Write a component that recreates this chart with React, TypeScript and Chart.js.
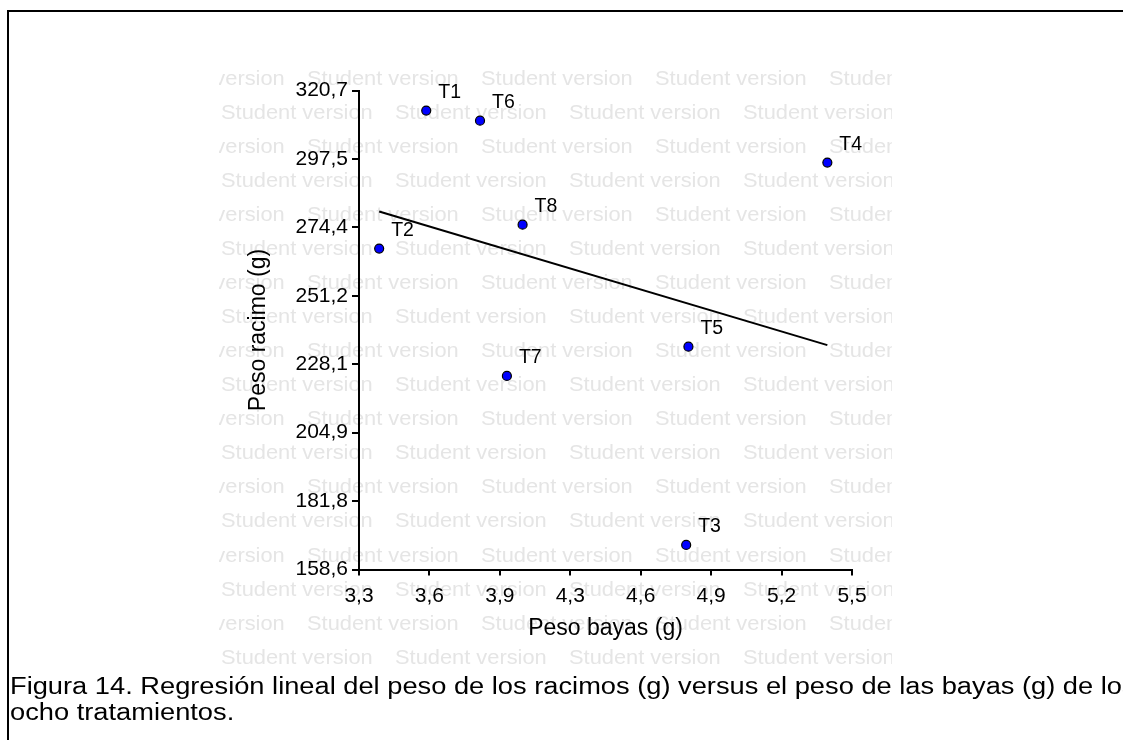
import React, { useEffect, useRef } from "react";
import { Chart, registerables } from "chart.js";

Chart.register(...registerables);

// Treatment means: berry weight (g) vs. cluster weight (g)
const treatments = ["T1", "T2", "T3", "T4", "T5", "T6", "T7", "T8"];
const berryWeight = [3.6, 3.39, 4.76, 5.39, 4.77, 3.84, 3.96, 4.03];
const clusterWeight = [313.9, 267.2, 166.9, 296.3, 234.0, 310.5, 224.1, 275.3];

const xTickLabels = ["3,3", "3,6", "3,9", "4,3", "4,6", "4,9", "5,2", "5,5"];
const yTickLabels = ["158,6", "181,8", "204,9", "228,1", "251,2", "274,4", "297,5", "320,7"];

const xMin = 3.3;
const xMax = 5.5;
const yMin = 158.6;
const yMax = 320.7;

const FONT = '"Liberation Sans", Arial, Helvetica, sans-serif';

// Least-squares fit of cluster weight on berry weight
function linearFit(xs: number[], ys: number[]) {
  const n = xs.length;
  const mx = xs.reduce((a, b) => a + b, 0) / n;
  const my = ys.reduce((a, b) => a + b, 0) / n;
  let sxy = 0;
  let sxx = 0;
  for (let i = 0; i < n; i++) {
    sxy += (xs[i] - mx) * (ys[i] - my);
    sxx += (xs[i] - mx) * (xs[i] - mx);
  }
  const slope = sxy / sxx;
  return { slope, intercept: my - slope * mx };
}

const fit = linearFit(berryWeight, clusterWeight);
const fitX0 = Math.min(...berryWeight);
const fitX1 = Math.max(...berryWeight);
const fitLine = [
  { x: fitX0, y: fit.intercept + fit.slope * fitX0 },
  { x: fitX1, y: fit.intercept + fit.slope * fitX1 },
];

// Evenly spaced ticks, one per label
function evenTicks(min: number, max: number, count: number) {
  return Array.from({ length: count }, (_, i) => ({ value: min + (i * (max - min)) / (count - 1) }));
}

// Tiled "Student version" stamp behind the plot
const studentStamp = {
  id: "studentStamp",
  beforeDraw(chart: any) {
    const ctx = chart.ctx as CanvasRenderingContext2D;
    ctx.save();
    ctx.beginPath();
    ctx.rect(219, 55, 892 - 219, 615);
    ctx.clip();
    ctx.font = `21px ${FONT}`;
    const word = "Student version";
    const sx = 151.7 / ctx.measureText(word).width;
    ctx.fillStyle = "#e5e5e5";
    ctx.textBaseline = "alphabetic";
    for (let r = 0; r < 18; r++) {
      const y = 84.8 + r * 34.05;
      const start = r % 2 === 0 ? 133 : 221;
      for (let x0 = start; x0 < 900; x0 += 174) {
        ctx.save();
        ctx.translate(x0, y);
        ctx.scale(sx, 1);
        ctx.fillText(word, 0, 0);
        ctx.restore();
      }
    }
    ctx.restore();
  },
};

// Treatment names next to each point
const pointNames = {
  id: "pointNames",
  afterDatasetsDraw(chart: any) {
    const ctx = chart.ctx as CanvasRenderingContext2D;
    const xs = chart.scales.x;
    const ys = chart.scales.y;
    ctx.save();
    ctx.font = `19.5px ${FONT}`;
    ctx.fillStyle = "#000";
    ctx.textAlign = "left";
    ctx.textBaseline = "alphabetic";
    treatments.forEach((name, i) => {
      const px = xs.getPixelForValue(berryWeight[i]);
      const py = ys.getPixelForValue(clusterWeight[i]);
      ctx.fillText(name, px + 12, py - 12.6);
    });
    ctx.restore();
  },
};

export default function App() {
  const canvasRef = useRef<HTMLCanvasElement | null>(null);

  useEffect(() => {
    const canvas = canvasRef.current;
    if (!canvas) return;
    const chart = new Chart(canvas, {
      type: "scatter",
      data: {
        datasets: [
          {
            type: "scatter",
            label: "Tratamientos",
            data: berryWeight.map((x, i) => ({ x, y: clusterWeight[i] })),
            backgroundColor: "#0000ff",
            borderColor: "#000000",
            borderWidth: 1.2,
            pointRadius: 4.5,
            pointHoverRadius: 4.5,
          },
          {
            type: "line",
            label: "Regresión",
            data: fitLine,
            borderColor: "#000000",
            borderWidth: 2,
            pointRadius: 0,
            fill: false,
            order: 1,
          } as any,
        ],
      },
      options: {
        responsive: false,
        animation: false,
        devicePixelRatio: 1,
        layout: { padding: { top: 90.5, right: 271, left: 0, bottom: 0 } },
        plugins: {
          legend: { display: false },
          tooltip: { enabled: false },
        },
        scales: {
          x: {
            type: "linear",
            position: "bottom",
            min: xMin,
            max: xMax,
            afterBuildTicks: (scale: any) => {
              scale.ticks = evenTicks(xMin, xMax, xTickLabels.length);
            },
            afterFit: (scale: any) => {
              scale.height = 740 - 569.5;
            },
            ticks: {
              autoSkip: false,
              maxRotation: 0,
              padding: 8,
              color: "#000",
              font: { family: FONT, size: 21 },
              callback: (_v: any, i: number) => xTickLabels[i],
            },
            grid: { drawOnChartArea: false, drawTicks: true, tickLength: 6, color: "#000", lineWidth: 2 },
            border: { display: true, color: "#000", width: 2 },
            title: {
              display: true,
              text: "Peso bayas (g)",
              color: "#000",
              font: { family: FONT, size: 23 },
              padding: { top: 0, bottom: 97.2 },
            },
          },
          y: {
            type: "linear",
            position: "left",
            min: yMin,
            max: yMax,
            afterBuildTicks: (scale: any) => {
              scale.ticks = evenTicks(yMin, yMax, yTickLabels.length);
            },
            afterFit: (scale: any) => {
              scale.width = 359;
            },
            ticks: {
              autoSkip: false,
              padding: 4,
              color: "#000",
              font: { family: FONT, size: 21 },
              callback: (_v: any, i: number) => yTickLabels[i],
            },
            grid: { drawOnChartArea: false, drawTicks: true, tickLength: 7, color: "#000", lineWidth: 2 },
            border: { display: true, color: "#000", width: 2 },
            title: {
              display: true,
              text: "Peso racimo (g)",
              color: "#000",
              font: { family: FONT, size: 23 },
              padding: { top: 244.9, bottom: 0 },
            },
          },
        },
      },
      plugins: [studentStamp, pointNames],
    });
    return () => chart.destroy();
  }, []);

  return (
    <div
      style={{
        position: "fixed",
        left: 0,
        top: 0,
        width: 1123,
        height: 740,
        overflow: "hidden",
        background: "#fff",
      }}
    >
      <div
        style={{
          position: "absolute",
          left: 7,
          top: 10,
          width: 1300,
          height: 900,
          borderLeft: "2px solid #000",
          borderTop: "2px solid #000",
          boxSizing: "border-box",
        }}
      />
      <canvas
        ref={canvasRef}
        width={1123}
        height={740}
        style={{ position: "absolute", left: 0, top: 0, width: 1123, height: 740 }}
      />
      <div
        style={{
          position: "absolute",
          left: 10,
          top: 673,
          fontFamily: FONT,
          fontSize: 23,
          lineHeight: "26px",
          color: "#000",
          whiteSpace: "nowrap",
          transform: "scaleX(1.185)",
          transformOrigin: "left top",
        }}
      >
        Figura 14. Regresión lineal del peso de los racimos (g) versus el peso de las bayas (g) de los
        <br />
        ocho tratamientos.
      </div>
    </div>
  );
}
